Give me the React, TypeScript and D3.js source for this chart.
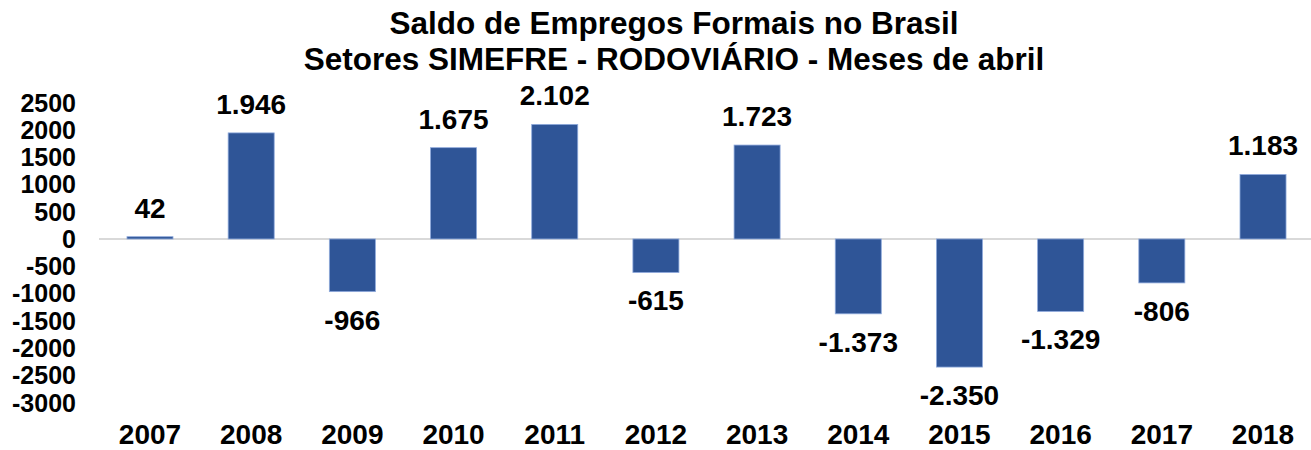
import React from "react";
import * as d3 from "d3";

const years = ["2007","2008","2009","2010","2011","2012","2013","2014","2015","2016","2017","2018"];
const values = [42, 1946, -966, 1675, 2102, -615, 1723, -1373, -2350, -1329, -806, 1183];
const yTicks = [2500, 2000, 1500, 1000, 500, 0, -500, -1000, -1500, -2000, -2500, -3000];
const titleLines = ["Saldo de Empregos Formais no Brasil", "Setores SIMEFRE - RODOVIÁRIO - Meses de abril"];

const W = 1311, H = 450;
const FONT = "'Liberation Sans', Arial, Helvetica, sans-serif";

const fmt = (v: number) => {
  const s = d3.format(",")(Math.abs(v)).replace(/,/g, ".");
  return (v < 0 ? "-" : "") + s;
};

export default function App() {
  const x = d3.scaleBand<string>().domain(years).range([99.4, 1313.6]).paddingInner(0.545).paddingOuter(0.2725);
  const y = d3.scaleLinear().domain([-3000, 2500]).range([402.5, 102.7]);
  const y0 = y(0);
  return (
    <svg width={W} height={H} style={{ display: "block", position: "absolute", left: 0, top: 0 }} fontFamily={FONT}>
      <rect width={W} height={H} fill="#fff" />
      {titleLines.map((t, i) => (
        <text key={i} x={674} y={34 + i * 36} textAnchor="middle" fontSize={31.5} fontWeight="bold" fill="#000">{t}</text>
      ))}
      {yTicks.map((t) => (
        <text key={t} x={76} y={y(t) + 9} textAnchor="end" fontSize={25} fontWeight="bold" fill="#000">{t}</text>
      ))}
      <line x1={99} x2={W} y1={y0} y2={y0} stroke="#d9d9d9" strokeWidth={2} />
      {values.map((v, i) => {
        const bx = x(years[i])!;
        const top = Math.min(y(v), y0);
        const h = Math.abs(y(v) - y0);
        return (
          <g key={years[i]}>
            <rect x={bx} y={top} width={x.bandwidth()} height={h} fill="#2f5597" stroke="#8faadc" strokeWidth={0.8} />
            <text x={bx + x.bandwidth() / 2} y={v >= 0 ? y(v) - 19 : y(v) + 38} textAnchor="middle" fontSize={28} fontWeight="bold" fill="#000">{fmt(v)}</text>
          </g>
        );
      })}
      {years.map((yr) => (
        <text key={yr} x={x(yr)! + x.bandwidth() / 2} y={444} textAnchor="middle" fontSize={28} fontWeight="bold" fill="#000">{yr}</text>
      ))}
    </svg>
  );
}
